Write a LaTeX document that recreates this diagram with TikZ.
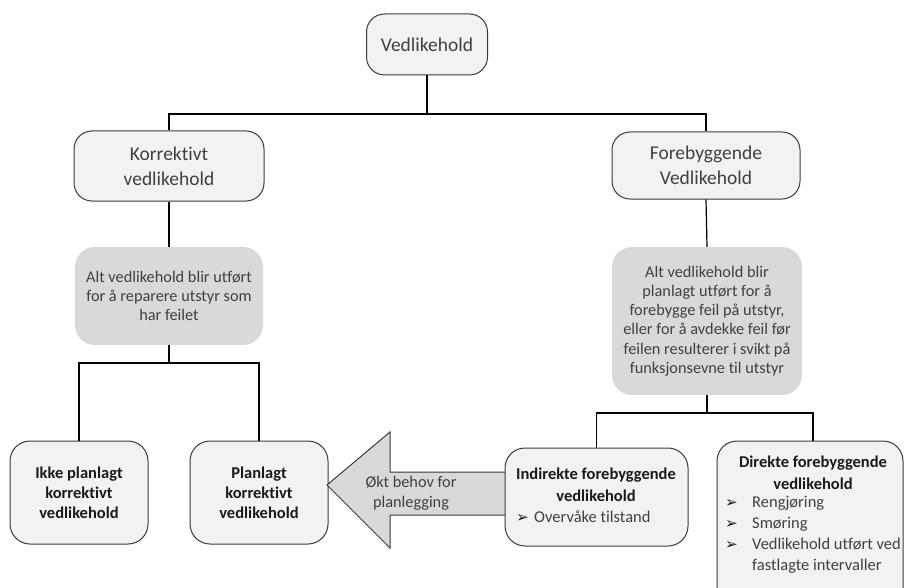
\documentclass[tikz,border=0pt]{standalone}
\usepackage{fontspec}
\setmainfont{Carlito}[RawFeature=-liga]
\newfontfamily\symfont{DejaVu Sans}
\definecolor{boxfill}{HTML}{F2F2F2}
\definecolor{greyfill}{HTML}{D9D9D9}
\definecolor{edge}{HTML}{3A3A3A}
\definecolor{ink}{HTML}{404040}
\definecolor{darkink}{HTML}{1A1A1A}
\newcommand{\bul}{\makebox[0pt][l]{\color{darkink}\symfont\fontsize{15}{15}\selectfont ➢}}
\tikzset{
  headbox/.style={draw=edge, fill=boxfill, rounded corners=18pt, line width=1pt,
    inner sep=0pt, align=center, text=ink, font=\fontsize{19.5}{25}\selectfont},
  greybox/.style={fill=greyfill, draw=none, rounded corners=20pt, inner sep=0pt,
    align=center, text=ink, font=\fontsize{16.3}{19.3}\selectfont},
  lowbox/.style={draw=edge, fill=boxfill, rounded corners=20pt, line width=1pt,
    inner sep=0pt, align=center, text=darkink, font=\bfseries\fontsize{16.5}{20}\selectfont},
  boldtxt/.style={inner sep=0pt, align=center, text=darkink, font=\bfseries\fontsize{16.5}{22}\selectfont},
  listtxt/.style={inner sep=0pt, align=left, text=ink, font=\fontsize{16.5}{21}\selectfont},
  link/.style={draw=black, line width=1.2pt},
}
\begin{document}
\begin{tikzpicture}[x=1pt,y=-1pt]
\useasboundingbox (0,0) rectangle (904,588);

% top level
\node[headbox, minimum width=121pt, minimum height=61pt] (top) at (427,44.5) {Vedlikehold};

% second level
\node[headbox, minimum width=190pt, minimum height=70pt] (korr) at (169,166) {Korrektivt\\vedlikehold};
\node[headbox, minimum width=188pt, minimum height=67pt] (fore) at (706,165.5) {Forebyggende\\Vedlikehold};

% descriptions
\node[greybox, minimum width=188pt, minimum height=98pt] (kdesc) at (169,296)
  {Alt vedlikehold blir utført\\for å reparere utstyr som\\har feilet};
\node[greybox, minimum width=190pt, minimum height=148pt] (fdesc) at (707,321)
  {Alt vedlikehold blir\\planlagt utført for å\\forebygge feil på utstyr,\\eller for å avdekke feil før\\feilen resulterer i svikt på\\funksjonsevne til utstyr};

% bottom level, corrective side
\node[lowbox, minimum width=138pt, minimum height=103pt] (ikke) at (79,492.5)
  {Ikke planlagt\\korrektivt\\vedlikehold};
\node[lowbox, minimum width=138pt, minimum height=103pt] (plan) at (259,492.5)
  {Planlagt\\korrektivt\\vedlikehold};

% wide arrow from indirect preventive to planned corrective
\coordinate (shaftTop) at (506,472);
\coordinate (shaftBot) at (506,515);
\draw[fill=greyfill, draw=edge, line width=1pt]
  (shaftTop) -- (390,472) -- (390,432) -- (327,485) -- (390,548) -- (390,515) -- (shaftBot);
\node[inner sep=0pt, align=center, text=ink, font=\fontsize{16.3}{19.5}\selectfont] (arrowtxt) at (411,493)
  {Økt behov for\\planlegging};

% bottom level, preventive side
\node[lowbox, minimum width=183pt, minimum height=98pt] (indir) at (596.5,497) {};
\node[boldtxt] (indirT) at (596,485) {Indirekte forebyggende\\vedlikehold};
\node[listtxt, anchor=west] (indirL) at (516,517) {\bul\hspace{18pt}Overvåke tilstand};

\node[lowbox, minimum width=186pt, minimum height=179pt] (dir) at (810,530.5) {};
\node[boldtxt] (dirT) at (813,473) {Direkte forebyggende\\vedlikehold};
\node[listtxt, anchor=north west] (dirL) at (725,496)
  {\bul\hspace{27pt}Rengjøring\\\bul\hspace{27pt}Smøring\\\bul\hspace{27pt}Vedlikehold utført ved\\\hspace{27pt}fastlagte intervaller};

% connectors
\coordinate (j1) at (427,114);
\draw[link] (top.south) -- (j1);
\draw[link] (korr.north) |- (j1) -| (fore.north);
\draw[link] (korr.south) -- (kdesc.north);
\draw[link] (fore.south) -- (fdesc.north);

\coordinate (j2) at (169,363);
\draw[link] (kdesc.south) -- (j2);
\draw[link] (ikke.north) |- (j2) -| (plan.north);

\coordinate (j3) at (707,413);
\coordinate (dirTop) at (813,441);
\draw[link] (fdesc.south) -- (j3);
\draw[link] (indir.north) |- (j3) -| (dirTop);
\end{tikzpicture}
\end{document}
